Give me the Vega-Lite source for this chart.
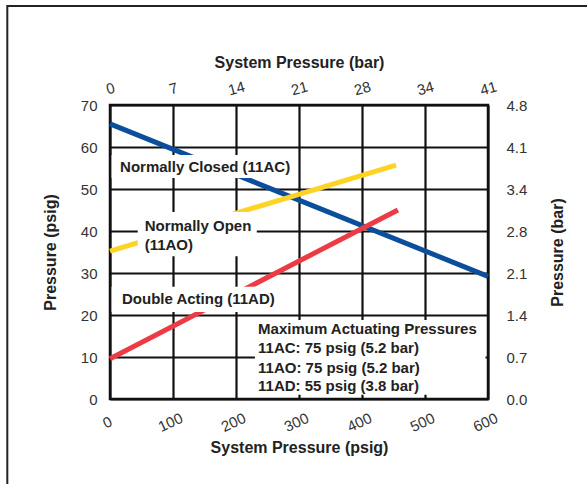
{
  "$schema": "https://vega.github.io/schema/vega-lite/v6.json",
  "width": 378,
  "height": 294,
  "autosize": {"type": "none"},
  "padding": {"left": 110, "top": 105, "right": 99, "bottom": 85},
  "background": "white",
  "config": {
    "font": "Liberation Sans",
    "view": {"stroke": "#111111", "strokeWidth": 2.5},
    "axis": {
      "labelFont": "Liberation Sans",
      "labelFontSize": 15,
      "labelColor": "#333333",
      "titleFont": "Liberation Sans",
      "titleFontSize": 16,
      "titleFontWeight": "bold",
      "titleColor": "#222222",
      "domain": false,
      "ticks": false,
      "gridColor": "#111111",
      "gridWidth": 2.2,
      "gridOpacity": 1
    }
  },
  "datasets": {
    "lines": [
      {"series": "Normally Closed (11AC)", "psig": 0, "pressure": 65.5},
      {"series": "Normally Closed (11AC)", "psig": 600, "pressure": 29.2},
      {"series": "Normally Open (11AO)", "psig": 0, "pressure": 35.2},
      {"series": "Normally Open (11AO)", "psig": 454, "pressure": 55.7},
      {"series": "Double Acting (11AD)", "psig": 0, "pressure": 9.6},
      {"series": "Double Acting (11AD)", "psig": 457, "pressure": 45}
    ],
    "boxes": [
      {"box": "NC", "x1": 2.5, "x2": 295, "y1": 52.6, "y2": 58.1},
      {"box": "NO", "x1": 44, "x2": 233, "y1": 34, "y2": 44.5},
      {"box": "DA", "x1": 2.5, "x2": 295, "y1": 20.7, "y2": 26.7},
      {"box": "MAP", "x1": 230, "x2": 596, "y1": 1, "y2": 18.8}
    ],
    "labels": [
      {"text": "Normally Closed (11AC)", "psig": 16, "pressure": 55.2},
      {"text": "Normally Open", "psig": 55, "pressure": 41.2},
      {"text": "(11AO)", "psig": 55, "pressure": 36.7},
      {"text": "Double Acting (11AD)", "psig": 19, "pressure": 23.8},
      {"text": "Maximum Actuating Pressures", "psig": 235, "pressure": 16.7},
      {"text": "11AC: 75 psig (5.2 bar)", "psig": 235, "pressure": 12.1},
      {"text": "11AO: 75 psig (5.2 bar)", "psig": 235, "pressure": 7.5},
      {"text": "11AD: 55 psig (3.8 bar)", "psig": 235, "pressure": 3.0}
    ]
  },
  "layer": [
    {
      "data": {"values": [{}]},
      "mark": {"type": "rect", "fill": null, "stroke": "#222222", "strokeWidth": 2},
      "encoding": {
        "x": {"datum": -163, "type": "quantitative", "scale": {"domain": [0, 600], "nice": false, "zero": false}, "axis": null},
        "x2": {"datum": 900},
        "y": {"datum": 93.6, "type": "quantitative", "scale": {"domain": [0, 70], "nice": false, "zero": false}, "axis": null},
        "y2": {"datum": -60}
      }
    },
    {
      "data": {"name": "lines"},
      "mark": {"type": "line", "strokeWidth": 5, "strokeCap": "butt"},
      "encoding": {
        "x": {
          "field": "psig", "type": "quantitative",
          "scale": {"domain": [0, 600], "nice": false, "zero": false},
          "axis": {
            "orient": "bottom", "values": [0, 100, 200, 300, 400, 500, 600],
            "grid": true, "labelAngle": -25, "labelAlign": "center", "labelBaseline": "middle",
            "labelPadding": 23, "labelOffset": -3,
            "title": "System Pressure (psig)", "titleY": 48, "titleBaseline": "middle"
          }
        },
        "y": {
          "field": "pressure", "type": "quantitative",
          "scale": {"domain": [0, 70], "nice": false, "zero": false},
          "axis": {
            "orient": "left", "values": [0, 10, 20, 30, 40, 50, 60, 70],
            "grid": true, "labelPadding": 13,
            "title": "Pressure (psig)", "titleX": -60, "titleY": 147, "titleAngle": 270,
            "titleAlign": "center", "titleBaseline": "middle"
          }
        },
        "color": {
          "field": "series", "type": "nominal",
          "scale": {
            "domain": ["Normally Closed (11AC)", "Normally Open (11AO)", "Double Acting (11AD)"],
            "range": ["#0b4f9c", "#fed323", "#ec3b45"]
          },
          "legend": null
        }
      }
    },
    {
      "data": {"name": "boxes"},
      "mark": {"type": "rect", "fill": "white"},
      "encoding": {
        "x": {
          "field": "x1", "type": "quantitative",
          "scale": {"domain": [0, 600], "nice": false, "zero": false},
          "axis": {
            "orient": "top", "values": [0, 100, 200, 300, 400, 500, 600],
            "grid": false,
            "labelExpr": "['0','7','14','21','28','34','41'][round(datum.value/100)]",
            "labelAngle": -15, "labelAlign": "center", "labelBaseline": "middle", "labelPadding": 17,
            "title": "System Pressure (bar)", "titleY": -43, "titleBaseline": "middle"
          }
        },
        "x2": {"field": "x2"},
        "y": {
          "field": "y1", "type": "quantitative",
          "scale": {"domain": [0, 70], "nice": false, "zero": false},
          "axis": {
            "orient": "right", "values": [0, 10, 20, 30, 40, 50, 60, 70],
            "grid": false,
            "labelExpr": "['0.0','0.7','1.4','2.1','2.8','3.4','4.1','4.8'][round(datum.value/10)]",
            "labelPadding": 18, "labelAlign": "left",
            "title": "Pressure (bar)", "titleX": 69, "titleY": 147, "titleAngle": 270,
            "titleAlign": "center", "titleBaseline": "middle"
          }
        },
        "y2": {"field": "y2"}
      }
    },
    {
      "data": {"name": "labels"},
      "mark": {"type": "text", "align": "left", "baseline": "middle", "font": "Liberation Sans", "fontSize": 15, "fontWeight": "bold", "color": "#222222"},
      "encoding": {
        "x": {"field": "psig", "type": "quantitative", "scale": {"domain": [0, 600], "nice": false, "zero": false}, "axis": null},
        "y": {"field": "pressure", "type": "quantitative", "scale": {"domain": [0, 70], "nice": false, "zero": false}, "axis": null},
        "text": {"field": "text"}
      }
    }
  ],
  "resolve": {"axis": {"x": "independent", "y": "independent"}}
}
